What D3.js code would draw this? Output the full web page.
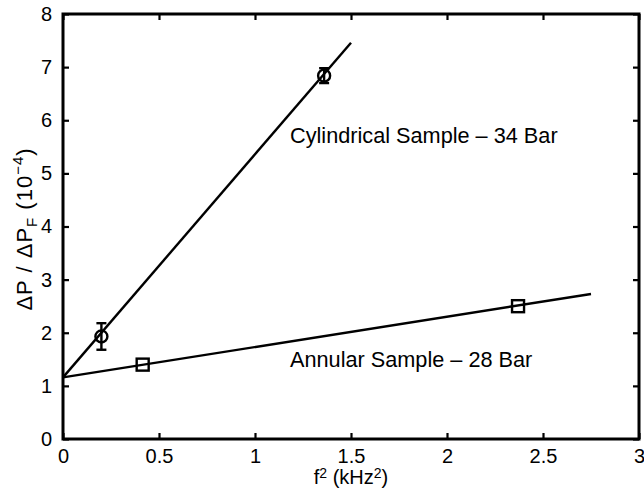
<!DOCTYPE html>
<html>
<head>
<meta charset="utf-8">
<script src="https://cdn.jsdelivr.net/npm/d3@7"></script>
<style>
  body { margin: 0; background: #fff; }
  text { font-family: "Liberation Sans", Arial, sans-serif; fill: #000; }
</style>
</head>
<body>
<div id="chart"></div>
<script>
// data
var cylPoints = [[0.2, 1.93, 0.25], [1.36, 6.84, 0.14]]   // x, y, error
var annPoints = [[0.415, 1.40], [2.37, 2.50]]
var cylFit = [[0, 1.16], [1.5, 7.46]]
var annFit = [[0, 1.16], [2.75, 2.73]]
var xTicks = [0, 0.5, 1, 1.5, 2, 2.5, 3]
var yTicks = [0, 1, 2, 3, 4, 5, 6, 7, 8]

var W = 644, H = 489
var margin = { top: 14, right: 5, bottom: 50, left: 63 },
  width = W - margin.left - margin.right,
  height = H - margin.top - margin.bottom

var svg = d3.select("#chart")
  .append("svg")
  .attr("width", W)
  .attr("height", H)
  .append("g")
  .attr("transform", "translate(" + margin.left + "," + margin.top + ")")

var x = d3.scaleLinear().domain([0, 3]).range([0, width])
var y = d3.scaleLinear().domain([0, 8]).range([height, 0])

// ticks on all four sides, pointing inward
function styleAxis(g) {
  g.select(".domain").remove()
  g.selectAll(".tick line").attr("stroke", "#000").attr("stroke-width", 2.2)
  g.selectAll(".tick text").style("font-size", "20px").attr("fill", "#000")
}
svg.append("g")
  .attr("transform", "translate(0," + height + ")")
  .call(d3.axisBottom(x).tickValues(xTicks).tickSize(-6).tickPadding(10).tickFormat(d3.format("")))
  .call(styleAxis)
svg.append("g")
  .call(d3.axisTop(x).tickValues(xTicks).tickSize(-6).tickFormat(""))
  .call(styleAxis)
svg.append("g")
  .call(d3.axisLeft(y).tickValues(yTicks).tickSize(-6).tickPadding(11).tickFormat(d3.format("d")))
  .call(styleAxis)
svg.append("g")
  .attr("transform", "translate(" + width + ",0)")
  .call(d3.axisRight(y).tickValues(yTicks).tickSize(-6).tickFormat(""))
  .call(styleAxis)

svg.append("rect")
  .attr("width", width).attr("height", height)
  .attr("fill", "none").attr("stroke", "#000").attr("stroke-width", 3)

// fit lines
var line = d3.line().x(function (d) { return x(d[0]) }).y(function (d) { return y(d[1]) })
;[cylFit, annFit].forEach(function (f) {
  svg.append("path").attr("d", line(f))
    .attr("fill", "none").attr("stroke", "#000").attr("stroke-width", 2.4)
})

// error bars + circles
cylPoints.forEach(function (p) {
  var cx = x(p[0])
  svg.append("line").attr("x1", cx).attr("x2", cx)
    .attr("y1", y(p[1] - p[2])).attr("y2", y(p[1] + p[2]))
    .attr("stroke", "#000").attr("stroke-width", 2.4)
  ;[p[1] - p[2], p[1] + p[2]].forEach(function (v) {
    svg.append("line").attr("x1", cx - 5).attr("x2", cx + 5)
      .attr("y1", y(v)).attr("y2", y(v))
      .attr("stroke", "#000").attr("stroke-width", 2.4)
  })
  svg.append("circle").attr("cx", cx).attr("cy", y(p[1])).attr("r", 6)
    .attr("fill", "none").attr("stroke", "#000").attr("stroke-width", 2.4)
})

svg.selectAll(".sq").data(annPoints).enter().append("rect")
  .attr("x", function (d) { return x(d[0]) - 6 })
  .attr("y", function (d) { return y(d[1]) - 6 })
  .attr("width", 12).attr("height", 12)
  .attr("fill", "none").attr("stroke", "#000").attr("stroke-width", 2.4)

// annotations
svg.append("text").attr("x", 290 - margin.left).attr("y", 143 - margin.top)
  .style("font-size", "21.7px").text("Cylindrical Sample \u2013 34 Bar")
svg.append("text").attr("x", 290 - margin.left).attr("y", 367 - margin.top)
  .style("font-size", "21.7px").text("Annular Sample \u2013 28 Bar")

// axis labels
var xl = svg.append("text").attr("x", width / 2).attr("y", height + 45)
  .attr("text-anchor", "middle").style("font-size", "20px")
xl.append("tspan").text("f")
xl.append("tspan").attr("dy", -6).style("font-size", "14px").text("2")
xl.append("tspan").attr("dy", 6).text(" (kHz")
xl.append("tspan").attr("dy", -6).style("font-size", "14px").text("2")
xl.append("tspan").attr("dy", 6).text(")")

var yl = svg.append("text")
  .attr("transform", "translate(" + (32 - margin.left) + "," + (229 - margin.top) + ") rotate(-90)")
  .attr("text-anchor", "middle").style("font-size", "22px").style("letter-spacing", "1px")
yl.append("tspan").text("\u0394P / \u0394P")
yl.append("tspan").attr("dy", 5).style("font-size", "15px").text("F")
yl.append("tspan").attr("dy", -5).text(" (10")
yl.append("tspan").attr("dy", -9).style("font-size", "15px").text("\u22124")
yl.append("tspan").attr("dy", 9).text(")")
</script>
</body>
</html>
